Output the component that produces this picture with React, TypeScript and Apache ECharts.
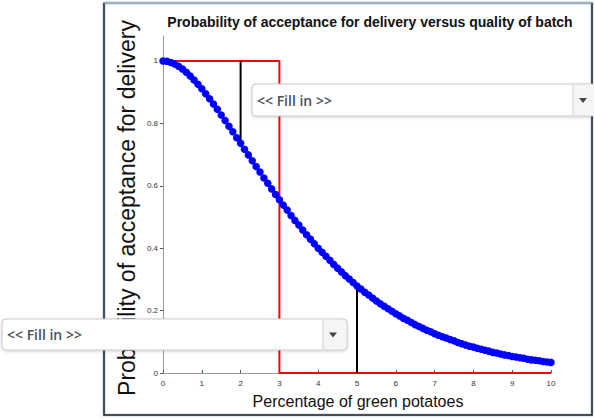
import React, { useEffect, useRef } from "react";
import * as echarts from "echarts";

// Percentage of green potatoes (x, step 0.1)
const xValues: number[] = [
  0, 0.1, 0.2, 0.3, 0.4, 0.5, 0.6, 0.7, 0.8, 0.9,
  1, 1.1, 1.2, 1.3, 1.4, 1.5, 1.6, 1.7, 1.8, 1.9,
  2, 2.1, 2.2, 2.3, 2.4, 2.5, 2.6, 2.7, 2.8, 2.9,
  3, 3.1, 3.2, 3.3, 3.4, 3.5, 3.6, 3.7, 3.8, 3.9,
  4, 4.1, 4.2, 4.3, 4.4, 4.5, 4.6, 4.7, 4.8, 4.9,
  5, 5.1, 5.2, 5.3, 5.4, 5.5, 5.6, 5.7, 5.8, 5.9,
  6, 6.1, 6.2, 6.3, 6.4, 6.5, 6.6, 6.7, 6.8, 6.9,
  7, 7.1, 7.2, 7.3, 7.4, 7.5, 7.6, 7.7, 7.8, 7.9,
  8, 8.1, 8.2, 8.3, 8.4, 8.5, 8.6, 8.7, 8.8, 8.9,
  9, 9.1, 9.2, 9.3, 9.4, 9.5, 9.6, 9.7, 9.8, 9.9,
  10,
];

// Probability of acceptance (blue dotted curve)
const acceptance: number[] = [
  1.0, 0.999, 0.995, 0.99, 0.983, 0.974, 0.964, 0.952, 0.939, 0.925,
  0.911, 0.895, 0.879, 0.862, 0.845, 0.827, 0.809, 0.791, 0.773, 0.754,
  0.736, 0.717, 0.699, 0.68, 0.662, 0.644, 0.625, 0.608, 0.59, 0.572,
  0.555, 0.538, 0.522, 0.505, 0.489, 0.474, 0.458, 0.443, 0.429, 0.414,
  0.4, 0.387, 0.374, 0.361, 0.348, 0.336, 0.324, 0.312, 0.301, 0.29,
  0.279, 0.269, 0.259, 0.25, 0.24, 0.231, 0.222, 0.214, 0.206, 0.198,
  0.19, 0.183, 0.175, 0.169, 0.162, 0.155, 0.149, 0.143, 0.137, 0.132,
  0.126, 0.121, 0.116, 0.112, 0.107, 0.103, 0.098, 0.094, 0.09, 0.086,
  0.083, 0.079, 0.076, 0.073, 0.07, 0.066, 0.064, 0.061, 0.058, 0.056,
  0.053, 0.051, 0.049, 0.047, 0.044, 0.042, 0.041, 0.039, 0.037, 0.035,
  0.034,
];

// Ideal (red) acceptance curve
const idealX: number[] = [0, 3, 3, 10];
const idealY: number[] = [1, 1, 0, 0];

// Black markers
const marker1X: number[] = [2, 2];
const marker1Y: number[] = [1, 0.736];
const marker2X: number[] = [5, 5];
const marker2Y: number[] = [0, 0.279];

const xTicks: number[] = [0, 1, 2, 3, 4, 5, 6, 7, 8, 9, 10];
const yTicks: number[] = [0, 0.2, 0.4, 0.6, 0.8, 1];

const titleText = "Probability of acceptance for delivery versus quality of batch";
const xLabel = "Percentage of green potatoes";
const yLabel = "Probability of acceptance for delivery";
const dropdownText = "<< Fill in >>";

const zip = (xs: number[], ys: number[]) => xs.map((x, i) => [x, ys[i]]);

function dropdown(x: number, y: number, w: number, h: number, sepX: number) {
  const cy = y + h / 2;
  const ax = sepX + 10;
  return {
    type: "group",
    z: 100,
    children: [
      {
        type: "rect",
        z: 100,
        shape: { x, y, width: w, height: h, r: 4 },
        style: {
          fill: "#ffffff",
          stroke: "#c9c9c9",
          lineWidth: 1,
          shadowBlur: 3,
          shadowColor: "rgba(0,0,0,0.18)",
          shadowOffsetY: 1,
        },
      },
      {
        type: "rect",
        z: 101,
        shape: { x: sepX, y: y + 1, width: x + w - sepX - 1, height: h - 2, r: [0, 3, 3, 0] },
        style: { fill: "#f5f5f5" },
      },
      {
        type: "line",
        z: 102,
        shape: { x1: sepX, y1: y + 1, x2: sepX, y2: y + h - 1 },
        style: { stroke: "#d0d0d0", lineWidth: 1 },
      },
      {
        type: "polygon",
        z: 102,
        shape: { points: [[ax - 4, cy - 2], [ax + 4, cy - 2], [ax, cy + 3]] },
        style: { fill: "#444444" },
      },
      {
        type: "text",
        z: 102,
        x: x + 5,
        y: cy,
        style: {
          text: dropdownText,
          fontFamily: "Open Sans",
          fontSize: 14,
          fontWeight: 600,
          fill: "#4a5058",
          verticalAlign: "middle",
          align: "left",
        },
      },
    ],
  };
}

export default function App() {
  const ref = useRef<HTMLDivElement>(null);
  useEffect(() => {
    if (!ref.current) return;
    const chart = echarts.init(ref.current, undefined, { renderer: "svg" });
    const axisColor = "#9a9a9a";
    chart.setOption({
      animation: false,
      backgroundColor: "#ffffff",
      textStyle: { fontFamily: "Liberation Sans" },
      grid: { left: 163, right: 43, top: 36, bottom: 46, containLabel: false, outerBoundsMode: "none" },
      xAxis: {
        type: "value",
        min: 0,
        max: 10,
        interval: 1,
        axisLine: { show: true, lineStyle: { color: axisColor, width: 1 } },
        axisTick: { show: true, inside: true, length: 3, lineStyle: { color: "#555" }, customValues: xTicks },
        axisLabel: { fontSize: 8, color: "#333", margin: 6, customValues: xTicks },
        splitLine: { show: false },
      },
      yAxis: {
        type: "value",
        min: 0,
        max: 1.08,
        axisLine: { show: true, lineStyle: { color: axisColor, width: 1 } },
        axisTick: { show: true, inside: false, length: 3, lineStyle: { color: "#555" }, customValues: yTicks },
        axisLabel: { fontSize: 8, color: "#333", margin: 5, customValues: yTicks },
        splitLine: { show: false },
      },
      series: [
        {
          type: "line",
          data: zip(idealX, idealY),
          showSymbol: false,
          lineStyle: { color: "#ff0000", width: 2 },
          z: 2,
        },
        {
          type: "line",
          data: zip(marker1X, marker1Y),
          showSymbol: false,
          lineStyle: { color: "#000000", width: 2 },
          z: 3,
        },
        {
          type: "line",
          data: zip(marker2X, marker2Y),
          showSymbol: false,
          lineStyle: { color: "#000000", width: 2 },
          z: 3,
        },
        {
          type: "scatter",
          data: zip(xValues, acceptance),
          symbol: "circle",
          symbolSize: 7.5,
          itemStyle: { color: "#0000ff", opacity: 1 },
          z: 4,
        },
      ],
      graphic: [
        {
          type: "rect",
          z: -10,
          shape: { x: 104, y: 3, width: 488, height: 412 },
          style: { fill: "none", stroke: "#b9d1ea", lineWidth: 3 },
        },
        {
          type: "polyline",
          z: -9,
          shape: { points: [[104, 3], [104, 415], [592, 415], [592, 3]] },
          style: { fill: "none", stroke: "#222222", lineWidth: 1.5 },
        },
        {
          type: "line",
          z: -9,
          shape: { x1: 104, y1: 3, x2: 592, y2: 3 },
          style: { stroke: "#8a8a8a", lineWidth: 1 },
        },
        {
          type: "text",
          z: 10,
          x: 370,
          y: 22,
          style: {
            text: titleText,
            fontFamily: "Liberation Sans",
            fontSize: 14,
            fontWeight: "bold",
            fill: "#111111",
            align: "center",
            verticalAlign: "middle",
          },
        },
        {
          type: "text",
          z: 10,
          x: 358,
          y: 401,
          style: {
            text: xLabel,
            fontFamily: "Liberation Sans",
            fontSize: 16,
            fill: "#111111",
            align: "center",
            verticalAlign: "middle",
          },
        },
        {
          type: "text",
          z: 10,
          x: 127,
          y: 208,
          rotation: Math.PI / 2,
          style: {
            text: yLabel,
            fontFamily: "Liberation Sans",
            fontSize: 23,
            fill: "#111111",
            align: "center",
            verticalAlign: "middle",
          },
        },
        dropdown(252, 84, 345, 32, 573),
        dropdown(2, 319, 345, 31, 323),
      ],
    });
    return () => chart.dispose();
  }, []);
  return (
    <div
      ref={ref}
      style={{ position: "fixed", left: 0, top: 0, width: 594, height: 419, background: "#ffffff" }}
    />
  );
}
